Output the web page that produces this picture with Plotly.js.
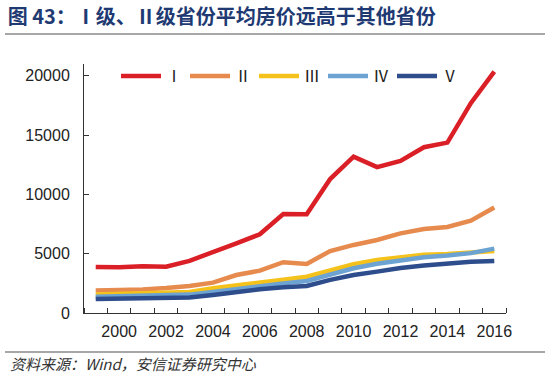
<!DOCTYPE html>
<html>
<head>
<meta charset="utf-8">
<script src="https://cdn.plot.ly/plotly-3.0.1.min.js"></script>
<style>html,body{margin:0;padding:0;background:#fff;}#chart{width:550px;height:377px;}</style>
</head>
<body>
<div id="chart"></div>
<script>
const years = [1999,2000,2001,2002,2003,2004,2005,2006,2007,2008,2009,2010,2011,2012,2013,2014,2015,2016];
const seriesNames = ["Ⅰ","Ⅱ","Ⅲ","Ⅳ","Ⅴ"];
const tier1 = [3880,3860,3950,3910,4400,5090,5880,6640,8350,8320,11300,13190,12300,12830,13980,14370,17700,20360];
const tier2 = [1900,1930,1980,2100,2280,2560,3200,3570,4280,4140,5230,5740,6160,6720,7090,7260,7790,8890];
const tier3 = [1560,1600,1640,1700,1780,2080,2350,2550,2800,3060,3630,4110,4470,4700,4920,4980,5150,5230];
const tier4 = [1380,1420,1460,1500,1550,1780,2050,2280,2500,2700,3250,3770,4150,4450,4700,4850,5050,5430];
const tier5 = [1180,1200,1230,1270,1300,1520,1780,2000,2170,2280,2790,3200,3490,3800,4000,4160,4330,4390];
const colors = ["#DA1F26","#E68A4E","#F4C21B","#6CA3D2","#2E4D8C"];
const xTickVals = [2000,2002,2004,2006,2008,2010,2012,2014,2016];
const yTickVals = [0,5000,10000,15000,20000];

const allSeries = [tier1,tier2,tier3,tier4,tier5];
const traces = allSeries.map((vals,i)=>({
  x: years, y: vals, name: seriesNames[i], type:'scatter', mode:'lines',
  line:{color:colors[i], width:4.5}
}));

const W=550,H=377,L=84,R=44,T=64,B=64;
const px2x = p => (p-L)/(W-L-R);
const py2y = p => (H-B-p)/(H-T-B);

const layout = {
  width:W, height:H,
  margin:{l:L,r:R,t:T,b:B},
  paper_bgcolor:'#fff', plot_bgcolor:'#fff',
  font:{family:'"Liberation Sans", Arial, sans-serif', size:16, color:'#222'},
  title:{text:'图 <b>43</b>：Ⅰ级、Ⅱ级省份平均房价远高于其他省份', x:0.014, xanchor:'left', xref:'container',
         y:1-17/H, yanchor:'middle', yref:'container',
         font:{family:'"Noto Sans CJK SC", sans-serif', size:20, color:'#1F3A73', weight:'bold'}},
  xaxis:{type:'linear', range:[1998.5,2016.5], tickvals:xTickVals, ticks:'', showgrid:false, zeroline:false,
         showline:true, linecolor:'#333', linewidth:1, ticklabelstandoff:4,
         minor:{tickmode:'linear', tick0:1998.5, dtick:1, ticks:'inside', ticklen:5, tickcolor:'#333', showgrid:false}},
  yaxis:{range:[0,21000], tickvals:yTickVals, tickformat:'d', ticks:'inside', ticklen:5, tickcolor:'#333', showgrid:false, zeroline:false,
         showline:true, linecolor:'#333', linewidth:1, ticklabelstandoff:10},
  showlegend:true,
  legend:{orientation:'h', x:px2x(116), xanchor:'left', y:py2y(76), yanchor:'middle', bgcolor:'rgba(0,0,0,0)',
          font:{family:'"Noto Sans CJK SC", sans-serif', size:16, color:'#222'}, itemwidth:40,
          entrywidth:14, entrywidthmode:'pixels', traceorder:'normal'},
  shapes:[
    {type:'line', xref:'paper', yref:'paper', x0:px2x(5), x1:px2x(545), y0:py2y(34), y1:py2y(34), line:{color:'#8a8a8a', width:1.5}},
    {type:'line', xref:'paper', yref:'paper', x0:px2x(5), x1:px2x(545), y0:py2y(352), y1:py2y(352), line:{color:'#8a8a8a', width:1.5}}
  ],
  annotations:[
    {text:'<i>资料来源：Wind，安信证券研究中心</i>', xref:'paper', yref:'paper', x:px2x(8), y:py2y(363), xanchor:'left', yanchor:'middle',
     showarrow:false, font:{family:'"Noto Sans CJK SC", sans-serif', size:15, color:'#333'}}
  ]
};
Plotly.newPlot('chart', traces, layout, {displayModeBar:false, staticPlot:true});
</script>
</body>
</html>
